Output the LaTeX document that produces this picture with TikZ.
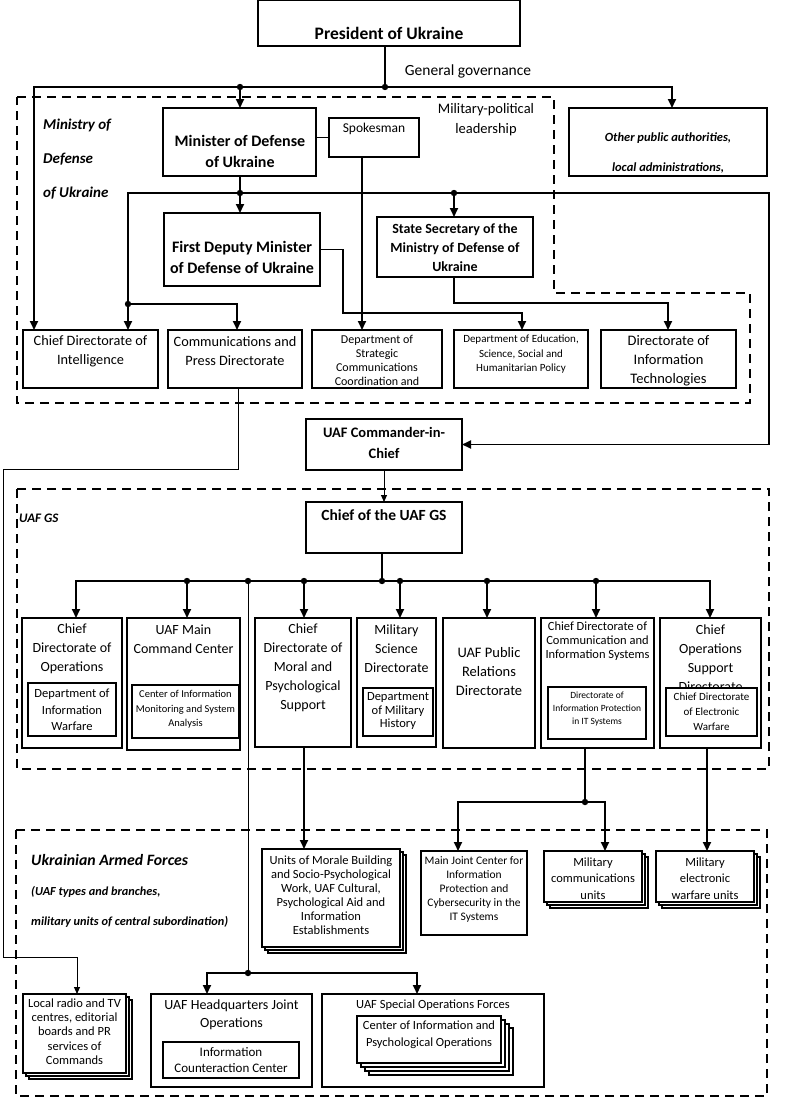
\documentclass[tikz,border=0pt]{standalone}
\usepackage{fontspec}
\setmainfont{Carlito}
\usetikzlibrary{arrows.meta}
\newcommand\myfs[2]{\fontsize{#1}{#2}\selectfont}
\begin{document}
\begin{tikzpicture}[x=1pt,y=-1pt,
 bx/.style={draw, line width=1.8pt, fill=white, inner sep=0pt, outer sep=0pt, anchor=north west},
 sbx/.style={draw, line width=1.3pt, fill=white, inner sep=0pt, outer sep=0pt, anchor=north west},
 t/.style={inner sep=0pt, align=center},
 conn/.style={line width=1.8pt},
 thinc/.style={line width=1pt},
 arr/.style={-{Triangle[width=8pt,length=9pt]}},
 sarr/.style={-{Triangle[width=6pt,length=7pt]}},
 dbox/.style={line width=2.6pt, dash pattern=on 9pt off 6pt}
]
\useasboundingbox[fill=white] (0,0) rectangle (800,1100);

% dashed groupings
\draw[dbox] (17,97) -- (554,97) -- (554,293) -- (750,293) -- (750,403) -- (17,403) -- cycle;
\draw[dbox] (17,489) rectangle (769,769);
\draw[dbox] (16,830) rectangle (767,1096);

% ---------- top ----------
\node[bx, minimum width=262pt, minimum height=46pt] (pres) at (258,0) {};
\node[t, font=\bfseries\myfs{17.5}{19}] (prest) at (389,33) {President of Ukraine};
\node[t, font=\myfs{15.5}{19}] (gg) at (468,71) {General governance};

\node[bx, minimum width=153pt, minimum height=68pt] (min) at (163,108) {};
\node[t, font=\bfseries\myfs{16}{21}] (mint) at (240,151.5) {Minister of Defense\\of Ukraine};
\node[bx, minimum width=90pt, minimum height=39pt] (spk) at (329,118) {};
\node[t, font=\myfs{13.5}{16}] (spkt) at (374,129) {Spokesman};
\node[t, font=\myfs{14.5}{20}] (mpl) at (486,120) {Military-political\\leadership};
\node[bx, minimum width=198pt, minimum height=68pt] (opa) at (569,108) {};
\node[t, font=\bfseries\itshape\myfs{12.5}{30}] (opat) at (668,153) {Other public authorities,\\local administrations,};
\node[t, anchor=west, align=left, font=\bfseries\itshape\myfs{15}{34}] (minlbl) at (43,159.5) {Ministry of\\Defense\\of Ukraine};

\node[bx, minimum width=156pt, minimum height=73pt] (fdm) at (164,213) {};
\node[t, font=\bfseries\myfs{16}{21}] (fdmt) at (242,257.5) {First Deputy Minister\\of Defense of Ukraine};
\node[bx, minimum width=156pt, minimum height=60pt] (ss) at (377,217) {};
\node[t, font=\bfseries\myfs{14}{19}] (sst) at (455,248) {State Secretary of the\\Ministry of Defense of\\Ukraine};

\node[bx, minimum width=135pt, minimum height=58pt] (cdi) at (23,330) {};
\node[t, font=\myfs{14.3}{19}] (cdit) at (90.5,351.5) {Chief Directorate of\\Intelligence};
\node[bx, minimum width=134pt, minimum height=58pt] (cpd) at (168,330) {};
\node[t, font=\myfs{14.3}{19}] (cpdt) at (235,351.5) {Communications and\\Press Directorate};
\node[bx, minimum width=130pt, minimum height=58pt] (dsc) at (312,330) {};
\node[t, font=\myfs{12}{14}] (dsct) at (377,360) {Department of\\Strategic\\Communications\\Coordination and};
\node[bx, minimum width=134pt, minimum height=58pt] (dedu) at (454,330) {};
\node[t, font=\myfs{11}{14.5}] (dedut) at (521,354.5) {Department of Education,\\Science, Social and\\Humanitarian Policy};
\node[bx, minimum width=135pt, minimum height=58pt] (dit) at (601,330) {};
\node[t, font=\myfs{14.5}{19}] (ditt) at (668.5,361) {Directorate of\\Information\\Technologies};

% ---------- commander / GS ----------
\node[bx, minimum width=156pt, minimum height=51pt] (cic) at (306,419) {};
\node[t, font=\bfseries\myfs{14.5}{21}] (cict) at (384,442.5) {UAF Commander-in-\\Chief};
\node[bx, minimum width=156pt, minimum height=51pt] (cgs) at (306,502) {};
\node[t, font=\bfseries\myfs{15.5}{17}] (cgst) at (384,515) {Chief of the UAF GS};
\node[t, anchor=west, font=\bfseries\itshape\myfs{13}{16}] (gslbl) at (19,518) {UAF GS};

\node[bx, minimum width=100pt, minimum height=130pt] (cdo) at (22,618) {};
\node[t, font=\myfs{14}{19}] (cdot) at (72,649) {Chief\\Directorate of\\Operations};
\node[bx, minimum width=88pt, minimum height=53pt] (cdoi) at (28,683) {};
\node[t, font=\myfs{12.5}{16.5}] (cdoit) at (72,710) {Department of\\Information\\Warfare};

\node[bx, minimum width=113pt, minimum height=132pt] (mcc) at (127,618) {};
\node[t, font=\myfs{14}{19}] (mcct) at (183.5,639.5) {UAF Main\\Command Center};
\node[bx, minimum width=107pt, minimum height=53pt] (mcci) at (132,685) {};
\node[t, font=\myfs{10.5}{14.5}] (mccit) at (185.5,709.5) {Center of Information\\Monitoring and System\\Analysis};

\node[bx, minimum width=96pt, minimum height=129pt] (cdm) at (255,618) {};
\node[t, font=\myfs{14}{19}] (cdmt) at (303,668) {Chief\\Directorate of\\Moral and\\Psychological\\Support};

\node[bx, minimum width=79pt, minimum height=129pt] (msd) at (357,618) {};
\node[t, font=\myfs{14}{19}] (msdt) at (396.5,649) {Military\\Science\\Directorate};
\node[bx, minimum width=70pt, minimum height=48pt] (msdi) at (363,688) {};
\node[t, font=\myfs{12.5}{13.5}] (msdit) at (398,711) {Department\\of Military\\History};

\node[bx, minimum width=92pt, minimum height=130pt] (prd) at (443,618) {};
\node[t, font=\myfs{14.5}{19}] (prdt) at (489,672) {UAF Public\\Relations\\Directorate};

\node[bx, minimum width=113pt, minimum height=130pt] (cis) at (541,618) {};
\node[t, font=\myfs{12.5}{14}] (cist) at (597.5,641) {Chief Directorate of\\Communication and\\Information Systems};
\node[bx, minimum width=98pt, minimum height=52pt] (cisi) at (548,687) {};
\node[t, font=\myfs{9.5}{13}] (cisit) at (597,709) {Directorate of\\Information Protection\\in IT Systems};

\node[bx, minimum width=101pt, minimum height=130pt] (osd) at (660,618) {};
\node[t, font=\myfs{14}{19}] (osdt) at (710.5,658.5) {Chief\\Operations\\Support\\Directorate};
\node[bx, minimum width=91pt, minimum height=48pt] (osdi) at (666,688) {};
\node[t, font=\myfs{11}{15}] (osdit) at (711.5,712) {Chief Directorate\\of Electronic\\Warfare};

% ---------- armed forces ----------
\node[t, anchor=west, font=\bfseries\itshape\myfs{15.8}{18}] (uafl1) at (31,860) {Ukrainian Armed Forces};
\node[t, anchor=west, font=\bfseries\itshape\myfs{12.3}{14}] (uafl2) at (31,892) {(UAF types and branches,};
\node[t, anchor=west, font=\bfseries\itshape\myfs{12.3}{14}] (uafl3) at (31,922) {military units of central subordination)};

\node[sbx, minimum width=138pt, minimum height=98pt] (umb3) at (268,855) {};
\node[sbx, minimum width=138pt, minimum height=98pt] (umb2) at (265,852) {};
\node[sbx, minimum width=138pt, minimum height=98pt] (umb) at (262,849) {};
\node[t, font=\myfs{12.5}{14}] (umbt) at (331,895) {Units of Morale Building\\and Socio-Psychological\\Work, UAF Cultural,\\Psychological Aid and\\Information\\Establishments};

\node[bx, minimum width=106pt, minimum height=84pt] (mjc) at (421,851) {};
\node[t, font=\myfs{11.5}{14}] (mjct) at (474,889) {Main Joint Center for\\Information\\Protection and\\Cybersecurity in the\\IT Systems};

\node[sbx, minimum width=98pt, minimum height=51pt] (mcu3) at (550,857) {};
\node[sbx, minimum width=98pt, minimum height=51pt] (mcu2) at (547,854) {};
\node[sbx, minimum width=98pt, minimum height=51pt] (mcu) at (544,851) {};
\node[t, font=\myfs{12.5}{16.5}] (mcut) at (593,878.5) {Military\\communications\\units};

\node[sbx, minimum width=98pt, minimum height=51pt] (mew3) at (662,857) {};
\node[sbx, minimum width=98pt, minimum height=51pt] (mew2) at (659,854) {};
\node[sbx, minimum width=98pt, minimum height=51pt] (mew) at (656,851) {};
\node[t, font=\myfs{12.5}{16.5}] (mewt) at (705,878.5) {Military\\electronic\\warfare units};

\node[sbx, minimum width=103pt, minimum height=79pt] (lrt3) at (29,1000) {};
\node[sbx, minimum width=103pt, minimum height=79pt] (lrt2) at (26,997) {};
\node[sbx, minimum width=103pt, minimum height=79pt] (lrt) at (23,994) {};
\node[t, font=\myfs{12.5}{14.2}] (lrtt) at (74.5,1031.5) {Local radio and TV\\centres, editorial\\boards and PR\\services of\\Commands};

\node[bx, minimum width=161pt, minimum height=93pt] (hq) at (151,994) {};
\node[t, font=\myfs{14}{18}] (hqt) at (231.5,1015) {UAF Headquarters Joint\\Operations};
\node[bx, minimum width=136pt, minimum height=36pt] (hqi) at (163,1042) {};
\node[t, font=\myfs{13}{16}] (hqit) at (231,1060) {Information\\Counteraction Center};

\node[bx, minimum width=222pt, minimum height=93pt] (sof) at (322,994) {};
\node[t, font=\myfs{12.5}{15}] (soft) at (433,1005) {UAF Special Operations Forces};
\node[sbx, minimum width=144pt, minimum height=47pt] (sofi4) at (369,1028) {};
\node[sbx, minimum width=144pt, minimum height=47pt] (sofi3) at (365,1024) {};
\node[sbx, minimum width=144pt, minimum height=47pt] (sofi2) at (361,1020) {};
\node[bx, line width=1.6pt, minimum width=144pt, minimum height=47pt] (sofi) at (357,1016) {};
\node[t, font=\myfs{12.5}{17}] (sofit) at (429,1034.5) {Center of Information and\\Psychological Operations};

% ---------- connectors ----------
\coordinate (j0) at (385,87);
\coordinate (gA) at (34,87);
\coordinate (gB) at (672,87);
\coordinate (j1) at (240,87);
\draw[conn] (pres.south -| j0) -- (j0);
\draw[conn,arr] (j0) -- (gA) -- (gA |- cdi.north);
\draw[conn,arr] (j0) -- (gB) -- (gB |- opa.north);
\draw[conn,arr] (j1) -- (j1 |- min.north);

\coordinate (j2) at (240,193);
\coordinate (hL) at (128,193);
\coordinate (hR) at (769,193);
\coordinate (j3) at (454,193);
\coordinate (j4) at (128,304);
\coordinate (k1) at (237,304);
\draw[conn] (min.south -| j2) -- (j2);
\draw[conn,arr] (j2) -- (j2 |- fdm.north);
\draw[conn,arr] (j2) -- (hL) -- (hL |- cdi.north);
\draw[conn,arr] (j2) -- (hR) |- (cic.east);
\draw[conn,arr] (j3) -- (j3 |- ss.north);
\draw[conn,arr] (j4) -- (k1) -- (k1 |- cpd.north);
\draw[conn] (min.east |- spk.west) -- (spk.west);

\coordinate (s1) at (362,0);
\draw[conn,arr] (spk.south -| s1) -- (dsc.north -| s1);
\coordinate (f1) at (343,313);
\coordinate (f2) at (522,313);
\draw[conn,arr] (fdm.east) -| (f1) -- (f2) -- (f2 |- dedu.north);
\coordinate (s2) at (454,303);
\coordinate (s3) at (668,303);
\draw[conn,arr] (ss.south -| s2) -- (s2) -- (s3) -- (s3 |- dit.north);

\coordinate (c1) at (238,469);
\coordinate (c2) at (3,469);
\coordinate (c3) at (3,957);
\coordinate (c4) at (77,957);
\draw[thinc,sarr] (cpd.south -| c1) -- (c1) -- (c2) -- (c3) -- (c4) -- (c4 |- lrt.north);

\draw[thinc,sarr] (cic.south) -- (cgs.north);

\coordinate (k0) at (382,581);
\coordinate (bL) at (76,581);
\coordinate (bR) at (710,581);
\coordinate (b1) at (187,581);
\coordinate (b2) at (304,581);
\coordinate (b3) at (400,581);
\coordinate (b4) at (487,581);
\coordinate (b5) at (596,581);
\coordinate (m0) at (248,581);
\draw[conn] (cgs.south -| k0) -- (k0);
\draw[conn,arr] (k0) -- (bL) -- (bL |- cdo.north);
\draw[conn,arr] (k0) -- (bR) -- (bR |- osd.north);
\draw[conn,arr] (b1) -- (b1 |- mcc.north);
\draw[conn,arr] (b2) -- (b2 |- cdm.north);
\draw[conn,arr] (b3) -- (b3 |- msd.north);
\draw[conn,arr] (b4) -- (b4 |- prd.north);
\draw[conn,arr] (b5) -- (b5 |- cis.north);

\coordinate (m1) at (248,973);
\coordinate (m2) at (207,973);
\coordinate (m3) at (417,973);
\draw[thinc] (m0) -- (m1);
\draw[conn,arr] (m1) -- (m2) -- (m2 |- hq.north);
\draw[conn,arr] (m1) -- (m3) -- (m3 |- sof.north);

\coordinate (u0) at (304,0);
\draw[conn,arr] (cdm.south -| u0) -- (umb.north -| u0);
\coordinate (p0) at (585,802);
\coordinate (p1) at (458,802);
\coordinate (p2) at (605,802);
\draw[conn] (cis.south -| p0) -- (p0);
\draw[conn,arr] (p0) -- (p1) -- (p1 |- mjc.north);
\draw[conn,arr] (p0) -- (p2) -- (p2 |- mcu.north);
\coordinate (e0) at (707,0);
\draw[conn,arr] (osd.south -| e0) -- (mew.north -| e0);

% junction dots
\foreach \p in {j0,j1,j2,j3,j4,k0,b1,b2,b3,b4,b5,m0,m1,p0}
  \fill (\p) circle (3.2pt);
\end{tikzpicture}
\end{document}
